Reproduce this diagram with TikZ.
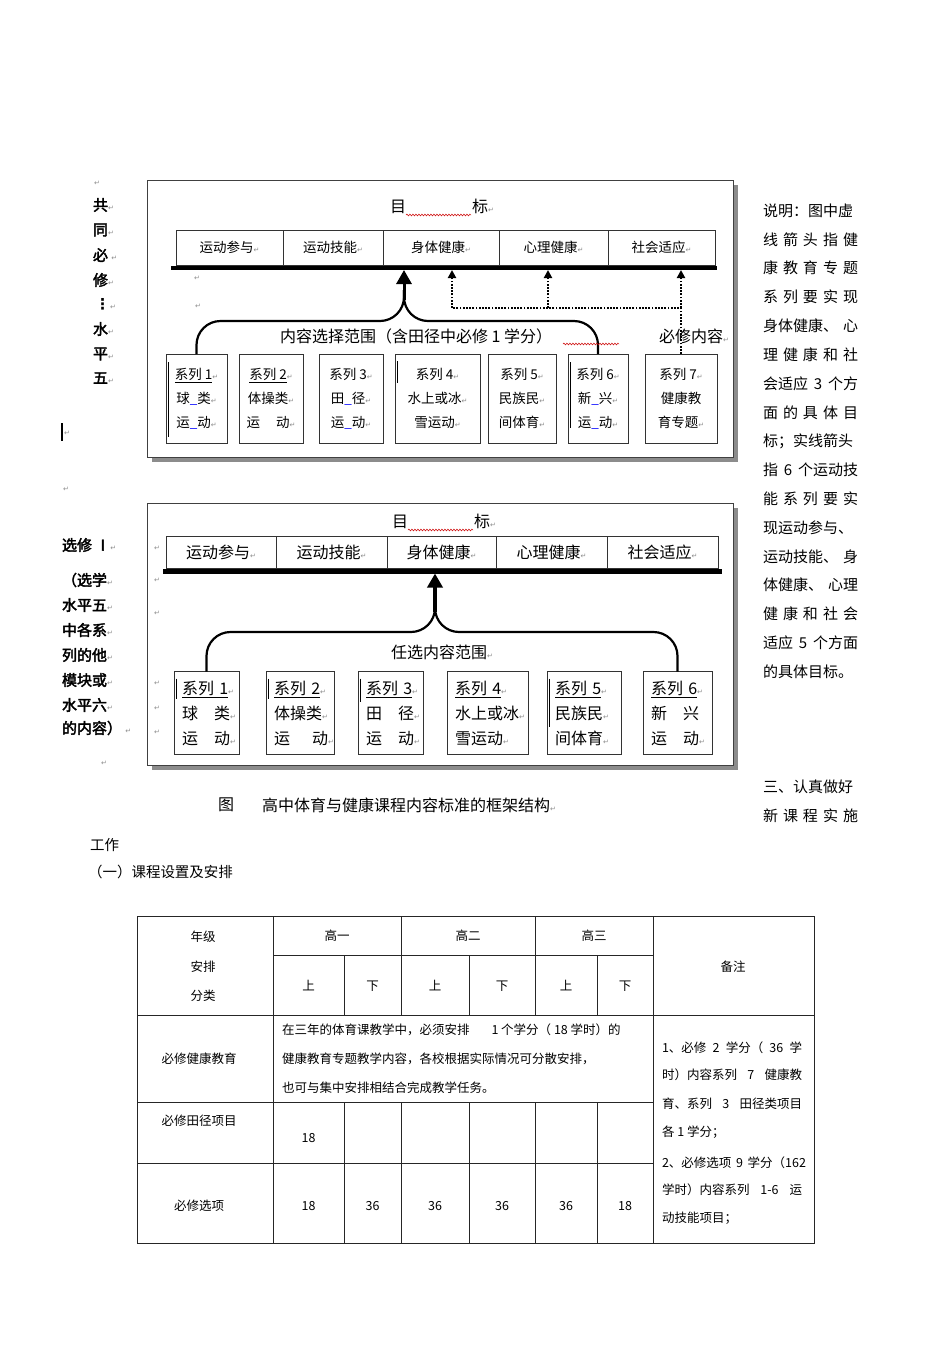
\documentclass[tikz,border=0pt]{standalone}
\usepackage{fontspec}
\setmainfont{Noto Sans CJK SC}
\newfontfamily\dv{DejaVu Sans}
\newfontfamily\lbold[FakeBold=2.5]{Noto Sans CJK SC}
\usetikzlibrary{arrows.meta,decorations.pathmorphing}
\newcommand\fsz[1]{\fontsize{#1}{#1}\selectfont}
\newcommand\retm{{\dv\fontsize{7}{7}\selectfont\textcolor{black!45}{↵}}}
\tikzset{
  every node/.style={inner sep=0pt, outer sep=0pt},
  frame/.style={draw=black!75, line width=0.8pt, fill=white},
  shadowfill/.style={fill=black!45},
  gbox/.style={draw=black!80, line width=0.8pt, minimum height=#1},
  goalbar/.style={line width=#1, black},
  sboxT/.style={draw=black!80, line width=0.8pt, font=\fontsize{13.5}{24}\selectfont, align=center, minimum height=89pt},
  sboxB/.style={draw=black!80, line width=0.8pt, font=\fontsize{16}{25}\selectfont, align=left, minimum height=83pt, inner xsep=8pt, text width=#1},
  branch/.style={line width=2.2pt, rounded corners=24pt},
  mainarrow/.style={line width=#1, -{Triangle[width=15pt,length=14pt]}},
  dotline/.style={line width=2pt, dash pattern=on 1.8pt off 1.4pt},
  dotarrow/.style={dotline, -{Triangle[width=8pt,length=8pt]}},
  wavy/.style={red!80!black, line width=0.5pt, decorate, decoration={snake, amplitude=0.9pt, segment length=3pt}},
  cursorbar/.style={line width=1.6pt, black},
  tline/.style={line width=0.7pt, black!85},
  lab/.style={font=\lbold\fsz{15}, anchor=west},
  rtext/.style={font=\fsz{15}, anchor=west},
  tcell/.style={font=\fsz{12.5}},
  tleft/.style={font=\fsz{12.5}, anchor=west},
  retnode/.style={font=\dv\fontsize{7}{7}\selectfont, text=black!45}
}
\begin{document}
\begin{tikzpicture}[x=1pt,y=-1pt]
\useasboundingbox (0,0) rectangle (950,1345);
\fill[white] (0,0) rectangle (950,1345);

% ---------- left labels, top ----------
\node[retnode] (r0) at (97,183) {↵};
\node[lab] (l1) at (93,205) {共\retm};
\node[lab] (l2) at (93,230) {同\retm};
\node[lab] (l3) at (93,255) {必 \retm};
\node[lab] (l4) at (93,280) {修\retm};
\node[lab] (l5) at (95,304) {{\dv\bfseries ⋮}\retm};
\node[lab] (l6) at (93,329) {水\retm};
\node[lab] (l7) at (93,354) {平\retm};
\node[lab] (l8) at (93,378) {五\retm};
\draw[cursorbar] (62,423) -- (62,441);
\node[retnode] (r1) at (67,433) {↵};
\node[retnode] (r2) at (66,489) {↵};

% ---------- left labels, bottom ----------
\node[lab] (m1) at (62,545) {选修 Ⅰ\retm};
\node[lab] (m2) at (62,580) {（选学\retm};
\node[lab] (m3) at (62,605) {水平五\retm};
\node[lab] (m4) at (62,630) {中各系\retm};
\node[lab] (m5) at (62,655) {列的他\retm};
\node[lab] (m6) at (62,680) {模块或\retm};
\node[lab] (m7) at (62,705) {水平六\retm};
\node[lab] (m8) at (62,728) {的内容） \retm};
\node[retnode] (r3) at (104,763) {↵};

% ================= TOP DIAGRAM =================
\fill[shadowfill] (152,185) rectangle (738,462);
\draw[frame] (147,180) rectangle (733,457);
\node[anchor=west, font=\fsz{16}] (goalT) at (390,206) {目\hspace{66pt}标\retm};
\draw[wavy] (406,215) -- (471,215);

\node[gbox=35pt, minimum width=107pt, font=\fsz{13.5}] (g1) at (229.5,247.5) {运动参与\retm};
\node[gbox=35pt, minimum width=100pt, font=\fsz{13.5}] (g2) at (333,247.5) {运动技能\retm};
\node[gbox=35pt, minimum width=116pt, font=\fsz{13.5}] (g3) at (441,247.5) {身体健康\retm};
\node[gbox=35pt, minimum width=109pt, font=\fsz{13.5}] (g4) at (553.5,247.5) {心理健康\retm};
\node[gbox=35pt, minimum width=107pt, font=\fsz{13.5}] (g5) at (661.5,247.5) {社会适应\retm};
\coordinate (barTL) at (171,268);
\coordinate (barTR) at (717,268);
\draw[goalbar=3.5pt] (barTL) -- (barTR);
\node[retnode] (r4) at (197,278) {↵};
\node[retnode] (r5) at (198,306) {↵};

\node[sboxT, minimum width=61pt] (s1) at (196.5,398.5) {\underline{系列 1}\retm\\球{\color{blue}\_}类\retm\\运{\color{blue}\_}动\retm};
\node[sboxT, minimum width=64pt] (s2) at (271,398.5) {\underline{系列 2}\retm\\体操类\retm\\\mbox{运\hspace{16pt}动\retm}};
\node[sboxT, minimum width=64pt] (s3) at (351,398.5) {系列 3\retm\\田{\color{blue}\_}径\retm\\运{\color{blue}\_}动\retm};
\node[sboxT, minimum width=85pt] (s4) at (437.5,398.5) {系列 4\retm\\水上或冰\retm\\雪运动\retm};
\node[sboxT, minimum width=68pt] (s5) at (522,398.5) {系列 5\retm\\民族民\retm\\间体育\retm};
\node[sboxT, minimum width=60pt] (s6) at (598,398.5) {系列 6\retm\\新{\color{blue}\_}兴\retm\\运{\color{blue}\_}动\retm};
\node[sboxT, minimum width=72pt] (s7) at (681,398.5) {系列 7\retm\\健康教\\育专题\retm};
\draw[cursorbar] ([shift={(2.5,8)}]s1.north west) -- ([shift={(2.5,-6)}]s1.south west);
\draw[cursorbar] ([shift={(2.5,7)}]s4.north west) -- ([shift={(2.5,29)}]s4.north west);
\draw[cursorbar] ([shift={(2.5,8)}]s6.north west) -- ([shift={(2.5,-15)}]s6.south west);

\coordinate (hubT) at (404,321);
\coordinate (junT) at (404,290);
\coordinate (shT) at (404,300);
\coordinate (tipT) at (404,270);
\draw[branch] (s1.north) |- (hubT) -- (junT);
\draw[branch] (s6.north) |- (hubT) -- (junT);
\draw[mainarrow=3pt] (shT) -- (tipT);

\node[anchor=west, font=\fsz{16}] (rangeT) at (280,336) {内容选择范围（含田径中必修 1 学分）};
\draw[wavy] (563,344) -- (619,344);
\node[anchor=west, font=\fsz{16}] (mustT) at (659,336) {必修内容\retm};

\coordinate (dA) at (452,308);
\coordinate (dB) at (548,308);
\coordinate (dC) at (s7.north |- dA);
\draw[dotline] (s7.north) -- (dC) -- (dA);
\draw[dotarrow] (dA) -- (dA |- tipT);
\draw[dotarrow] (dB) -- (dB |- tipT);
\draw[dotarrow] (dC) -- (dC |- tipT);

% ================= BOTTOM DIAGRAM =================
\fill[shadowfill] (152,508) rectangle (738,770);
\draw[frame] (147,503) rectangle (733,765);
\node[anchor=west, font=\fsz{16}] (goalB) at (392,521) {目\hspace{66pt}标\retm};
\draw[wavy] (408,530) -- (473,530);

\node[gbox=32pt, minimum width=110pt, font=\fsz{16}] (h1) at (221,552) {运动参与\retm};
\node[gbox=32pt, minimum width=111pt, font=\fsz{16}] (h2) at (331.5,552) {运动技能\retm};
\node[gbox=32pt, minimum width=109pt, font=\fsz{16}] (h3) at (441.5,552) {身体健康\retm};
\node[gbox=32pt, minimum width=111pt, font=\fsz{16}] (h4) at (551.5,552) {心理健康\retm};
\node[gbox=32pt, minimum width=111pt, font=\fsz{16}] (h5) at (662.5,552) {社会适应\retm};
\coordinate (barBL) at (163,571);
\coordinate (barBR) at (722,571);
\draw[goalbar=5pt] (barBL) -- (barBR);

\node[retnode] (r6) at (157,548) {↵};
\node[retnode] (r7) at (157,580) {↵};
\node[retnode] (r8) at (157,613) {↵};
\node[retnode] (r9) at (157,683) {↵};
\node[retnode] (r10) at (157,708) {↵};
\node[retnode] (r11) at (157,732) {↵};

\node[sboxB=49pt] (b1) at (206.5,713) {\underline{系列 1}\retm\\球　类\retm\\运　动\retm};
\node[sboxB=52pt] (b2) at (300,713) {\underline{系列 2}\retm\\体操类\retm\\\mbox{运\hspace{22pt}动\retm}};
\node[sboxB=49pt] (b3) at (390.5,713) {\underline{系列 3}\retm\\田　径\retm\\运　动\retm};
\node[sboxB=65pt] (b4) at (487.5,713) {\underline{系列 4}\retm\\水上或冰\retm\\雪运动\retm};
\node[sboxB=58pt] (b5) at (584,713) {\underline{系列 5}\retm\\民族民\retm\\间体育\retm};
\node[sboxB=53pt] (b6) at (677.5,713) {\underline{系列 6}\retm\\新　兴\\运　动\retm};
\draw[cursorbar] ([shift={(2.5,7)}]b1.north west) -- ([shift={(2.5,27)}]b1.north west);
\draw[cursorbar] ([shift={(2.5,7)}]b2.north west) -- ([shift={(2.5,27)}]b2.north west);
\draw[cursorbar] ([shift={(2.5,7)}]b3.north west) -- ([shift={(2.5,30)}]b3.north west);
\draw[cursorbar] ([shift={(2.5,7)}]b5.north west) -- ([shift={(2.5,55)}]b5.north west);

\coordinate (hubB) at (435,632);
\coordinate (junB) at (435,600);
\coordinate (shB) at (435,612);
\coordinate (tipB) at (435,573.5);
\draw[branch] (b1.north) |- (hubB) -- (junB);
\draw[branch] (b6.north) |- (hubB) -- (junB);
\draw[mainarrow=4pt] (shB) -- (tipB);
\node[font=\fsz{16}] (rangeB) at (442,652) {任选内容范围\retm};

% ---------- caption ----------
\node[anchor=west, font=\fsz{16}] (capfig) at (218,805) {图};
\node[anchor=west, font=\fsz{16}] (captxt) at (262,805) {高中体育与健康课程内容标准的框架结构\retm};

% ---------- right column text ----------
\node[rtext] (t1) at (763,211) {\makebox[95pt][l]{说明：图中虚}};
\node[rtext] (t2) at (763,240) {\makebox[95pt][s]{线 箭 头 指 健}};
\node[rtext] (t3) at (763,268) {\makebox[95pt][s]{康 教 育 专 题}};
\node[rtext] (t4) at (763,297) {\makebox[95pt][s]{系 列 要 实 现}};
\node[rtext] (t5) at (763,326) {\makebox[95pt][s]{身体健康、 心}};
\node[rtext] (t6) at (763,355) {\makebox[95pt][s]{理 健 康 和 社}};
\node[rtext] (t7) at (763,384) {\makebox[95pt][s]{会适应 3 个方}};
\node[rtext] (t8) at (763,413) {\makebox[95pt][s]{面 的 具 体 目}};
\node[rtext] (t9) at (763,441) {\makebox[95pt][l]{标；实线箭头}};
\node[rtext] (t10) at (763,470) {\makebox[95pt][s]{指 6 个运动技}};
\node[rtext] (t11) at (763,499) {\makebox[95pt][s]{能 系 列 要 实}};
\node[rtext] (t12) at (763,528) {\makebox[95pt][l]{现运动参与、}};
\node[rtext] (t13) at (763,557) {\makebox[95pt][s]{运动技能、 身}};
\node[rtext] (t14) at (763,585) {\makebox[95pt][s]{体健康、 心理}};
\node[rtext] (t15) at (763,614) {\makebox[95pt][s]{健 康 和 社 会}};
\node[rtext] (t16) at (763,643) {\makebox[95pt][s]{适应 5 个方面}};
\node[rtext] (t17) at (763,672) {\makebox[95pt][l]{的具体目标。}};
\node[rtext] (t18) at (763,787) {\makebox[95pt][l]{三、认真做好}};
\node[rtext] (t19) at (763,816) {\makebox[95pt][s]{新 课 程 实 施}};

\node[anchor=west, font=\fsz{14.5}] (work) at (90,845) {工作};
\node[anchor=west, font=\fsz{14.5}] (sec1) at (88,872) {（一）课程设置及安排};

% ---------- table ----------
\draw[tline] (137,916) rectangle (814,1243);
\draw[tline] (273,955) -- (653,955);
\draw[tline] (137,1015) -- (814,1015);
\draw[tline] (137,1102) -- (653,1102);
\draw[tline] (137,1163) -- (653,1163);
\draw[tline] (273,916) -- (273,1243);
\draw[tline] (653,916) -- (653,1243);
\draw[tline] (401,916) -- (401,1015);
\draw[tline] (535,916) -- (535,1015);
\draw[tline] (401,1102) -- (401,1243);
\draw[tline] (535,1102) -- (535,1243);
\draw[tline] (344,955) -- (344,1015);
\draw[tline] (469,955) -- (469,1015);
\draw[tline] (597,955) -- (597,1015);
\draw[tline] (344,1102) -- (344,1243);
\draw[tline] (469,1102) -- (469,1243);
\draw[tline] (597,1102) -- (597,1243);

\node[tcell] (c1) at (203,937) {年级};
\node[tcell] (c2) at (203,967) {安排};
\node[tcell] (c3) at (203,996) {分类};
\node[tcell] (c4) at (337,936) {高一};
\node[tcell] (c5) at (468,936) {高二};
\node[tcell] (c6) at (594,936) {高三};
\node[tcell] (u1) at (308.5,986) {上};
\node[tcell] (u2) at (372.5,986) {下};
\node[tcell] (u3) at (435,986) {上};
\node[tcell] (u4) at (502,986) {下};
\node[tcell] (u5) at (566,986) {上};
\node[tcell] (u6) at (625,986) {下};
\node[tcell] (c7) at (733,967) {备注};
\node[tcell] (c8) at (199,1059) {必修健康教育};
\node[tleft] (p1) at (282,1030) {在三年的体育课教学中，必须安排\hspace{22pt}1 个学分（ 18 学时）的};
\node[tleft] (p2) at (282,1059) {健康教育专题教学内容，各校根据实际情况可分散安排，};
\node[tleft] (p3) at (282,1088) {也可与集中安排相结合完成教学任务。};
\node[tcell] (c9) at (199,1121) {必修田径项目};
\node[tcell] (n0) at (308.5,1138) {18};
\node[tcell] (c10) at (199,1206) {必修选项};
\node[tcell] (n1) at (308.5,1206) {18};
\node[tcell] (n2) at (372.5,1206) {36};
\node[tcell] (n3) at (435,1206) {36};
\node[tcell] (n4) at (502,1206) {36};
\node[tcell] (n5) at (566,1206) {36};
\node[tcell] (n6) at (625,1206) {18};
\node[tleft] (e1) at (662,1048) {\makebox[140pt][s]{1、必修 2 学分（ 36 学}};
\node[tleft] (e2) at (662,1075) {\makebox[140pt][s]{时）内容系列 7 健康教}};
\node[tleft] (e3) at (662,1104) {\makebox[140pt][s]{育、系列 3 田径类项目}};
\node[tleft] (e4) at (662,1132) {各 1 学分；};
\node[tleft] (e5) at (662,1163) {\makebox[144pt][s]{2、必修选项 9 学分（162}};
\node[tleft] (e6) at (662,1190) {\makebox[140pt][s]{学时）内容系列 1-6 运}};
\node[tleft] (e7) at (662,1218) {动技能项目；};
\end{tikzpicture}
\end{document}
